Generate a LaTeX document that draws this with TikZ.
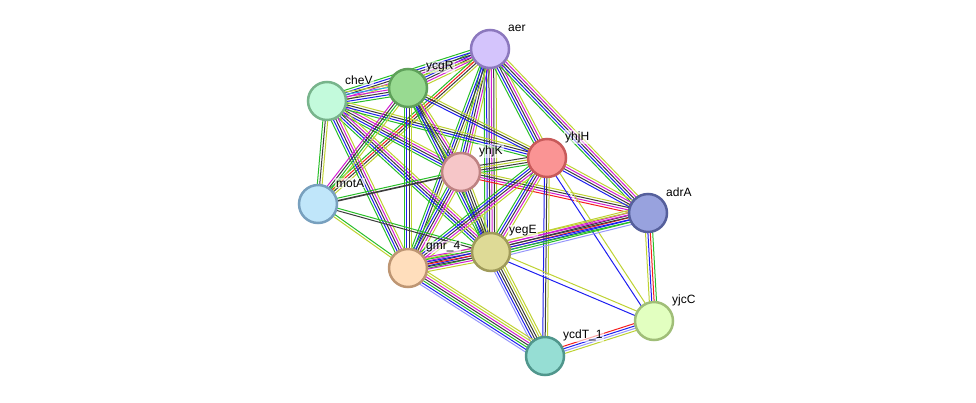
\documentclass[tikz,border=0pt]{standalone}
\usepackage{fontspec}
\setmainfont{Liberation Sans}
\usetikzlibrary{calc,backgrounds}
\definecolor{sgreen}{RGB}{40,190,40}
\definecolor{sblue}{RGB}{30,30,240}
\definecolor{sblack}{RGB}{60,60,60}
\definecolor{smag}{RGB}{210,30,210}
\definecolor{syel}{RGB}{190,210,50}
\definecolor{sred}{RGB}{245,30,30}
\definecolor{slav}{RGB}{150,150,250}
\definecolor{scyan}{RGB}{40,170,230}
\newcommand\sedge[4]{%
  \foreach \c [count=\i] in {#4} {%
    \pgfmathsetmacro\off{(\i-(#3+1)/2)*2.4}%
    \draw[\c, line width=1pt] ($(#1)!\off pt!90:(#2)$) -- ($(#2)!\off pt!-90:(#1)$);
  }%
}
\tikzset{
  prot/.style={circle, minimum size=38pt, inner sep=0pt, line width=2.5pt},
  lbl/.style={anchor=west, font=\fontsize{12}{12}\selectfont, fill=white, fill opacity=0.6, text opacity=1, inner sep=1pt}
}
\begin{document}
\begin{tikzpicture}[x=1pt,y=-1pt]
\useasboundingbox (0,0) rectangle (976,402);
\node[prot, fill={rgb,255:red,212;green,196;blue,252}, draw={rgb,255:red,140;green,120;blue,190}] (aer) at (490,49) {};
\node[prot, fill={rgb,255:red,152;green,218;blue,145}, draw={rgb,255:red,95;green,160;blue,90}] (ycgR) at (408,88) {};
\node[prot, fill={rgb,255:red,195;green,250;blue,220}, draw={rgb,255:red,120;green,180;blue,140}] (cheV) at (327,101) {};
\node[prot, fill={rgb,255:red,246;green,198;blue,200}, draw={rgb,255:red,190;green,130;blue,130}] (yhjK) at (461,172) {};
\node[prot, fill={rgb,255:red,250;green,148;blue,148}, draw={rgb,255:red,200;green,90;blue,90}] (yhjH) at (547,158) {};
\node[prot, fill={rgb,255:red,192;green,230;blue,250}, draw={rgb,255:red,120;green,160;blue,190}] (motA) at (318,204) {};
\node[prot, fill={rgb,255:red,152;green,162;blue,222}, draw={rgb,255:red,85;green,95;blue,155}] (adrA) at (648,213) {};
\node[prot, fill={rgb,255:red,255;green,222;blue,188}, draw={rgb,255:red,190;green,150;blue,115}] (gmr) at (408,268) {};
\node[prot, fill={rgb,255:red,222;green,218;blue,150}, draw={rgb,255:red,160;green,155;blue,90}] (yegE) at (491,252) {};
\node[prot, fill={rgb,255:red,226;green,255;blue,192}, draw={rgb,255:red,160;green,190;blue,120}] (yjcC) at (654,321) {};
\node[prot, fill={rgb,255:red,150;green,222;blue,212}, draw={rgb,255:red,80;green,150;blue,140}] (ycdT) at (545,356) {};
\begin{scope}[on background layer]
\sedge{aer}{ycgR}{5}{sgreen,sblue,sblack,smag,syel}
\sedge{aer}{cheV}{5}{sgreen,sblue,sblack,smag,syel}
\sedge{cheV}{ycgR}{6}{sgreen,sblue,sblack,smag,scyan,syel}
\sedge{aer}{yhjK}{5}{sgreen,sblue,sblack,smag,syel}
\sedge{aer}{yegE}{6}{sgreen,sblue,sblack,smag,sblack,syel}
\sedge{aer}{gmr}{4}{sgreen,sblue,sblack,syel}
\sedge{aer}{yhjH}{5}{sgreen,sblue,sblack,smag,syel}
\sedge{aer}{adrA}{5}{sgreen,sblue,sblack,smag,syel}
\sedge{aer}{motA}{4}{sgreen,sred,sblack,syel}
\sedge{cheV}{yhjK}{5}{sgreen,sblue,sblack,smag,syel}
\sedge{cheV}{yhjH}{4}{sgreen,sblue,sblack,syel}
\sedge{cheV}{yegE}{5}{sgreen,sblue,sblack,smag,syel}
\sedge{cheV}{gmr}{5}{sgreen,sblue,sblack,smag,syel}
\sedge{cheV}{motA}{3}{sgreen,sblack,syel}
\sedge{ycgR}{yhjK}{5}{sgreen,sblue,sblack,smag,syel}
\sedge{ycgR}{yhjH}{3}{sblue,sblack,syel}
\sedge{ycgR}{yegE}{4}{sgreen,sblue,sblack,syel}
\sedge{ycgR}{gmr}{4}{sgreen,sblue,sblack,syel}
\sedge{ycgR}{motA}{4}{smag,sblack,sgreen,syel}
\sedge{yhjK}{yhjH}{4}{sgreen,sblack,syel,sblack}
\sedge{yhjK}{adrA}{4}{sred,smag,sblack,syel}
\sedge{yhjK}{yegE}{5}{sgreen,sblue,sblack,sblack,syel}
\sedge{yhjK}{gmr}{5}{sgreen,sblue,sblack,smag,syel}
\draw[sblack, line width=1.6pt] ($(yhjK)!1.2pt!90:(motA)$) -- ($(motA)!1.2pt!-90:(yhjK)$);
\draw[sgreen, line width=1pt] ($(yhjK)!-1.4pt!90:(motA)$) -- ($(motA)!-1.4pt!-90:(yhjK)$);
\sedge{yhjH}{adrA}{4}{sblue,sblack,smag,syel}
\sedge{yhjH}{yegE}{5}{sgreen,sblue,sblack,smag,syel}
\sedge{yhjH}{gmr}{5}{sgreen,sblue,sblack,smag,syel}
\sedge{yhjH}{ycdT}{3}{sblue,sblack,syel}
\sedge{yhjH}{yjcC}{3}{sblue,white,syel}
\sedge{adrA}{yegE}{7}{syel,smag,sblack,sred,sblue,sgreen,slav}
\sedge{adrA}{gmr}{5}{syel,smag,sblack,sblue,sgreen}
\sedge{adrA}{yjcC}{4}{syel,sblue,sred,sgreen}
\sedge{yegE}{yjcC}{3}{sblue,white,syel}
\sedge{yjcC}{ycdT}{4}{sred,sblue,slav,syel}
\sedge{yegE}{ycdT}{6}{slav,sblue,sblack,sblack,syel,syel}
\sedge{gmr}{ycdT}{7}{slav,sblue,sgreen,sblack,smag,syel,syel}
\sedge{gmr}{yegE}{7}{syel,smag,sblack,sred,sblue,sgreen,smag}
\sedge{motA}{yegE}{2}{sblack,sgreen}
\sedge{motA}{gmr}{2}{syel,sgreen}
\end{scope}
\node[lbl] (laer) at ($(aer)+(17,-21)$) {aer};
\node[lbl] (lycgR) at ($(ycgR)+(17,-21)$) {ycgR};
\node[lbl] (lcheV) at ($(cheV)+(17,-21)$) {cheV};
\node[lbl] (lyhjK) at ($(yhjK)+(17,-21)$) {yhjK};
\node[lbl] (lyhjH) at ($(yhjH)+(17,-21)$) {yhjH};
\node[lbl] (lmotA) at ($(motA)+(17,-21)$) {motA};
\node[lbl] (ladrA) at ($(adrA)+(17,-21)$) {adrA};
\node[lbl] (lgmr) at ($(gmr)+(17,-21)$) {gmr\_4};
\node[lbl] (lyegE) at ($(yegE)+(17,-21)$) {yegE};
\node[lbl] (lyjcC) at ($(yjcC)+(17,-21)$) {yjcC};
\node[lbl] (lycdT) at ($(ycdT)+(17,-21)$) {ycdT\_1};
\end{tikzpicture}
\end{document}
